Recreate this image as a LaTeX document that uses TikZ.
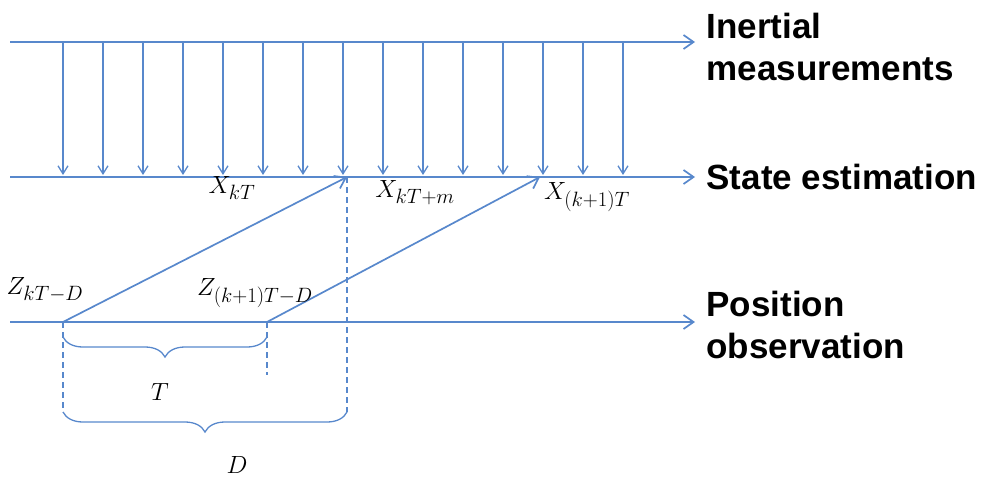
\documentclass[tikz,border=0pt]{standalone}
\usepackage{fontspec}
\setmainfont{Liberation Serif}
\newfontfamily\labelfont{Liberation Sans}
\usetikzlibrary{arrows.meta,decorations.pathreplacing}
\definecolor{lineblue}{RGB}{88,136,204}
\tikzset{
  flow/.style={draw=lineblue,line width=1.7pt,-{Straight Barb[length=10pt,width=14pt]}},
  tick/.style={draw=lineblue,line width=1.3pt,-{Straight Barb[length=8pt,width=10pt]}},
  guide/.style={draw=lineblue,line width=1.3pt,dash pattern=on 6pt off 4pt},
  span/.style={draw=lineblue,line width=1.3pt,decorate,decoration={brace,mirror,amplitude=20pt}},
  title/.style={font=\labelfont\bfseries\fontsize{35}{42}\selectfont,anchor=west,align=left},
  sym/.style={font=\fontsize{30}{34}\selectfont}
}
\begin{document}
\begin{tikzpicture}[x=1pt,y=-1pt]
\useasboundingbox (0,0) rectangle (990,488);

% three time lines
\coordinate (imu_start) at (10,42);
\coordinate (imu_end) at (695,42);
\coordinate (est_start) at (10,177);
\coordinate (est_end) at (695,177);
\coordinate (obs_start) at (10,322);
\coordinate (obs_end) at (695,322);
\draw[flow] (imu_start) -- (imu_end);
\draw[flow] (est_start) -- (est_end);
\draw[flow] (obs_start) -- (obs_end);

\node[title] (imu) at (703,47) {Inertial\\measurements};
\node[title] (est) at (703,177) {State estimation};
\node[title] (obs) at (703,325) {Position\\observation};

% inertial samples
\foreach \i in {0,...,14} {
  \coordinate (a\i) at (63+40*\i,42);
  \coordinate (b\i) at (63+40*\i,175);
  \draw[tick] (a\i) -- (b\i);
}

% delayed observations
\coordinate (z0) at (63,322);
\coordinate (z1) at (267,322);
\coordinate (x0) at (347,177);
\coordinate (x1) at (540,177);
\draw[flow] (z0) -- (x0);
\draw[flow] (z1) -- (x1);

% guides and braces
\coordinate (g0) at (63,412);
\coordinate (g1) at (267,375);
\coordinate (g2) at (347,412);
\draw[guide] (z0) -- (g0);
\draw[guide] (z1) -- (g1);
\draw[guide] (x0) -- (g2);
\draw[span] (63,337) -- (267,337);
\draw[span] (63,412) -- (347,412);

\node[sym] (xkt) at (232,188) {$X_{kT}$};
\node[sym] (xktm) at (415,193) {$X_{kT+m}$};
\node[sym] (xk1t) at (587,197) {$X_{(k+1)T}$};
\node[sym] (zktd) at (45,290) {$Z_{kT-D}$};
\node[sym] (zk1td) at (255,293) {$Z_{(k+1)T-D}$};
\node[sym] (tlab) at (160,392) {$T$};
\node[sym] (dlab) at (237,465) {$D$};
\end{tikzpicture}
\end{document}
